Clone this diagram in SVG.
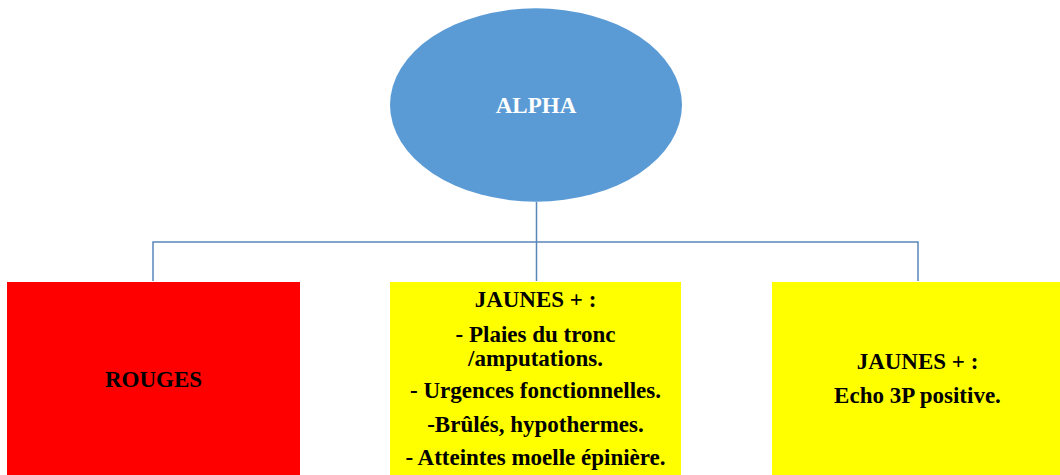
<svg xmlns="http://www.w3.org/2000/svg" width="1060" height="475" viewBox="0 0 1060 475">
<style>
.t{font-family:"Liberation Serif","Times New Roman",serif;font-weight:bold;font-size:23px;text-anchor:middle;fill:#000}
.w{fill:#fff}
.c{fill:none;stroke:#5a86b9;stroke-width:1.5}
</style>
<rect width="1060" height="475" fill="#fff"/>
<g id="connectors">
<path class="c" d="M536.5 202V242M153 281V242H918V281M536.5 242V281"/>
</g>
<g id="alpha">
<ellipse cx="536" cy="105" rx="146" ry="96.7" fill="#5b9bd5"/>
<text class="t w" x="536" y="112.5">ALPHA</text>
</g>
<g id="rouges">
<rect x="7" y="282" width="293" height="193" fill="#ff0000"/>
<text class="t" x="153.5" y="386.5">ROUGES</text>
</g>
<g id="jaunes1">
<rect x="390" y="282" width="291" height="193" fill="#ffff00"/>
<text class="t" x="535.5" y="307.3">JAUNES + :</text>
<text class="t" x="535.5" y="341.7">- Plaies du tronc</text>
<text class="t" x="535.5" y="365.7">/amputations.</text>
<text class="t" x="535.5" y="398.3">- Urgences fonctionnelles.</text>
<text class="t" x="535.5" y="431.7">-Brûlés, hypothermes.</text>
<text class="t" x="535.5" y="465">- Atteintes moelle épinière.</text>
</g>
<g id="jaunes2">
<rect x="772" y="282" width="288" height="193" fill="#ffff00"/>
<text class="t" x="917.5" y="369.3">JAUNES + :</text>
<text class="t" x="917.5" y="403.3">Echo 3P positive.</text>
</g>
</svg>
